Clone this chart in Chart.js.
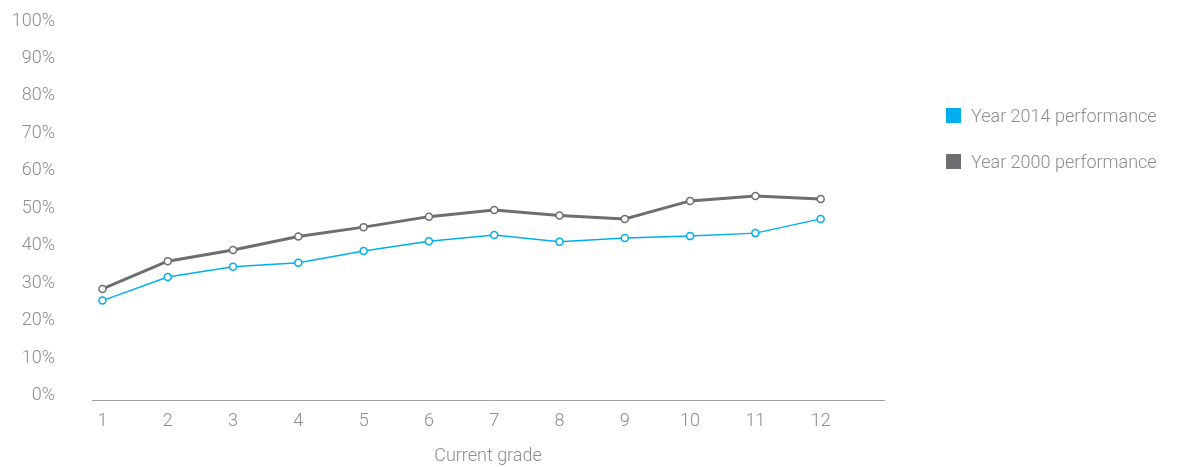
<!DOCTYPE html>
<html>
<head>
<meta charset="utf-8">
<script src="https://cdn.jsdelivr.net/npm/chart.js@4"></script>
<style>
  body { margin: 0; background: #fff; font-family: Roboto, sans-serif; }
  #wrap { position: relative; width: 1179px; height: 467px; }
  #legend { position: absolute; left: 946px; top: 100px; }
  .item { display: flex; align-items: center; height: 30px; margin-bottom: 16px;
          font-size: 18px; font-weight: 300; color: #8d8d8d; white-space: nowrap; }
  .box { width: 15px; height: 15px; margin-right: 10px; }
</style>
</head>
<body>
<div id="wrap">
  <canvas id="gradeChart"></canvas>
  <div id="legend"></div>
</div>
<script>
// Dữ liệu biểu đồ
const grades = [1, 2, 3, 4, 5, 6, 7, 8, 9, 10, 11, 12];
const year2014 = [25.4, 31.7, 34.4, 35.5, 38.6, 41.2, 42.9, 41.1, 42.1, 42.6, 43.4, 47.2];
const year2000 = [28.5, 35.9, 38.9, 42.5, 45.0, 47.8, 49.6, 48.1, 47.2, 52.0, 53.3, 52.5];
const yTicks = [0, 10, 20, 30, 40, 50, 60, 70, 80, 90, 100];
const seriesNames = ['Year 2014 performance', 'Year 2000 performance'];

const blue = '#00aeef';
const gray = '#6d6e71';
const textColor = '#8d8d8d';

Chart.defaults.font.family = 'Roboto, sans-serif';
Chart.defaults.font.size = 18;
Chart.defaults.font.weight = 300;
Chart.defaults.color = textColor;

function toPoints(values) {
    return grades.map((g, i) => ({ x: g, y: values[i] }));
}

const ctx = document.getElementById('gradeChart').getContext('2d');

const gradeChart = new Chart(ctx, {
    type: 'line',
    data: {
        datasets: [{
            label: seriesNames[0],
            data: toPoints(year2014),
            borderColor: blue,
            backgroundColor: '#fff',
            borderWidth: 1.5,
            pointRadius: 3.5,
            pointBorderWidth: 1.5,
            pointBorderColor: blue,
            pointBackgroundColor: '#fff',
            tension: 0
        }, {
            label: seriesNames[1],
            data: toPoints(year2000),
            borderColor: gray,
            backgroundColor: '#fff',
            borderWidth: 3,
            pointRadius: 3.5,
            pointBorderWidth: 1.5,
            pointBorderColor: gray,
            pointBackgroundColor: '#fff',
            tension: 0
        }]
    },
    options: {
        responsive: true,
        maintainAspectRatio: false,
        animation: false,
        layout: { padding: { top: 21, right: 295, bottom: 0, left: 10 } },
        plugins: {
            legend: { display: false },
            tooltip: { enabled: false }
        },
        scales: {
            x: {
                type: 'linear',
                min: 0.84,
                max: 12.97,
                afterBuildTicks: scale => { scale.ticks = grades.map(v => ({ value: v })); },
                grid: { display: false, drawTicks: false },
                border: { display: true, color: '#a0a0a0', width: 1 },
                ticks: { padding: 10, color: textColor, autoSkip: false, maxRotation: 0 },
                title: { display: true, text: 'Current grade', color: textColor, padding: { top: 3, bottom: 0 } }
            },
            y: {
                min: -1.34,
                max: 100,
                afterBuildTicks: scale => { scale.ticks = yTicks.map(v => ({ value: v })); },
                afterFit: scale => {
                    // giữ cố định độ rộng trục Y và bỏ phần đệm trên/dưới
                    scale.width = 82;
                    scale.paddingTop = 0;
                    scale.paddingBottom = 0;
                },
                grid: { display: false, drawTicks: false },
                border: { display: false },
                ticks: { padding: 37, color: textColor, callback: v => v + '%' }
            }
        }
    }
});

// Chú thích dạng HTML bên phải
const legendEl = document.getElementById('legend');
[blue, gray].forEach((c, i) => {
    const row = document.createElement('div');
    row.className = 'item';
    row.innerHTML = '<span class="box" style="background:' + c + '"></span>' + seriesNames[i];
    legendEl.appendChild(row);
});
</script>
</body>
</html>
